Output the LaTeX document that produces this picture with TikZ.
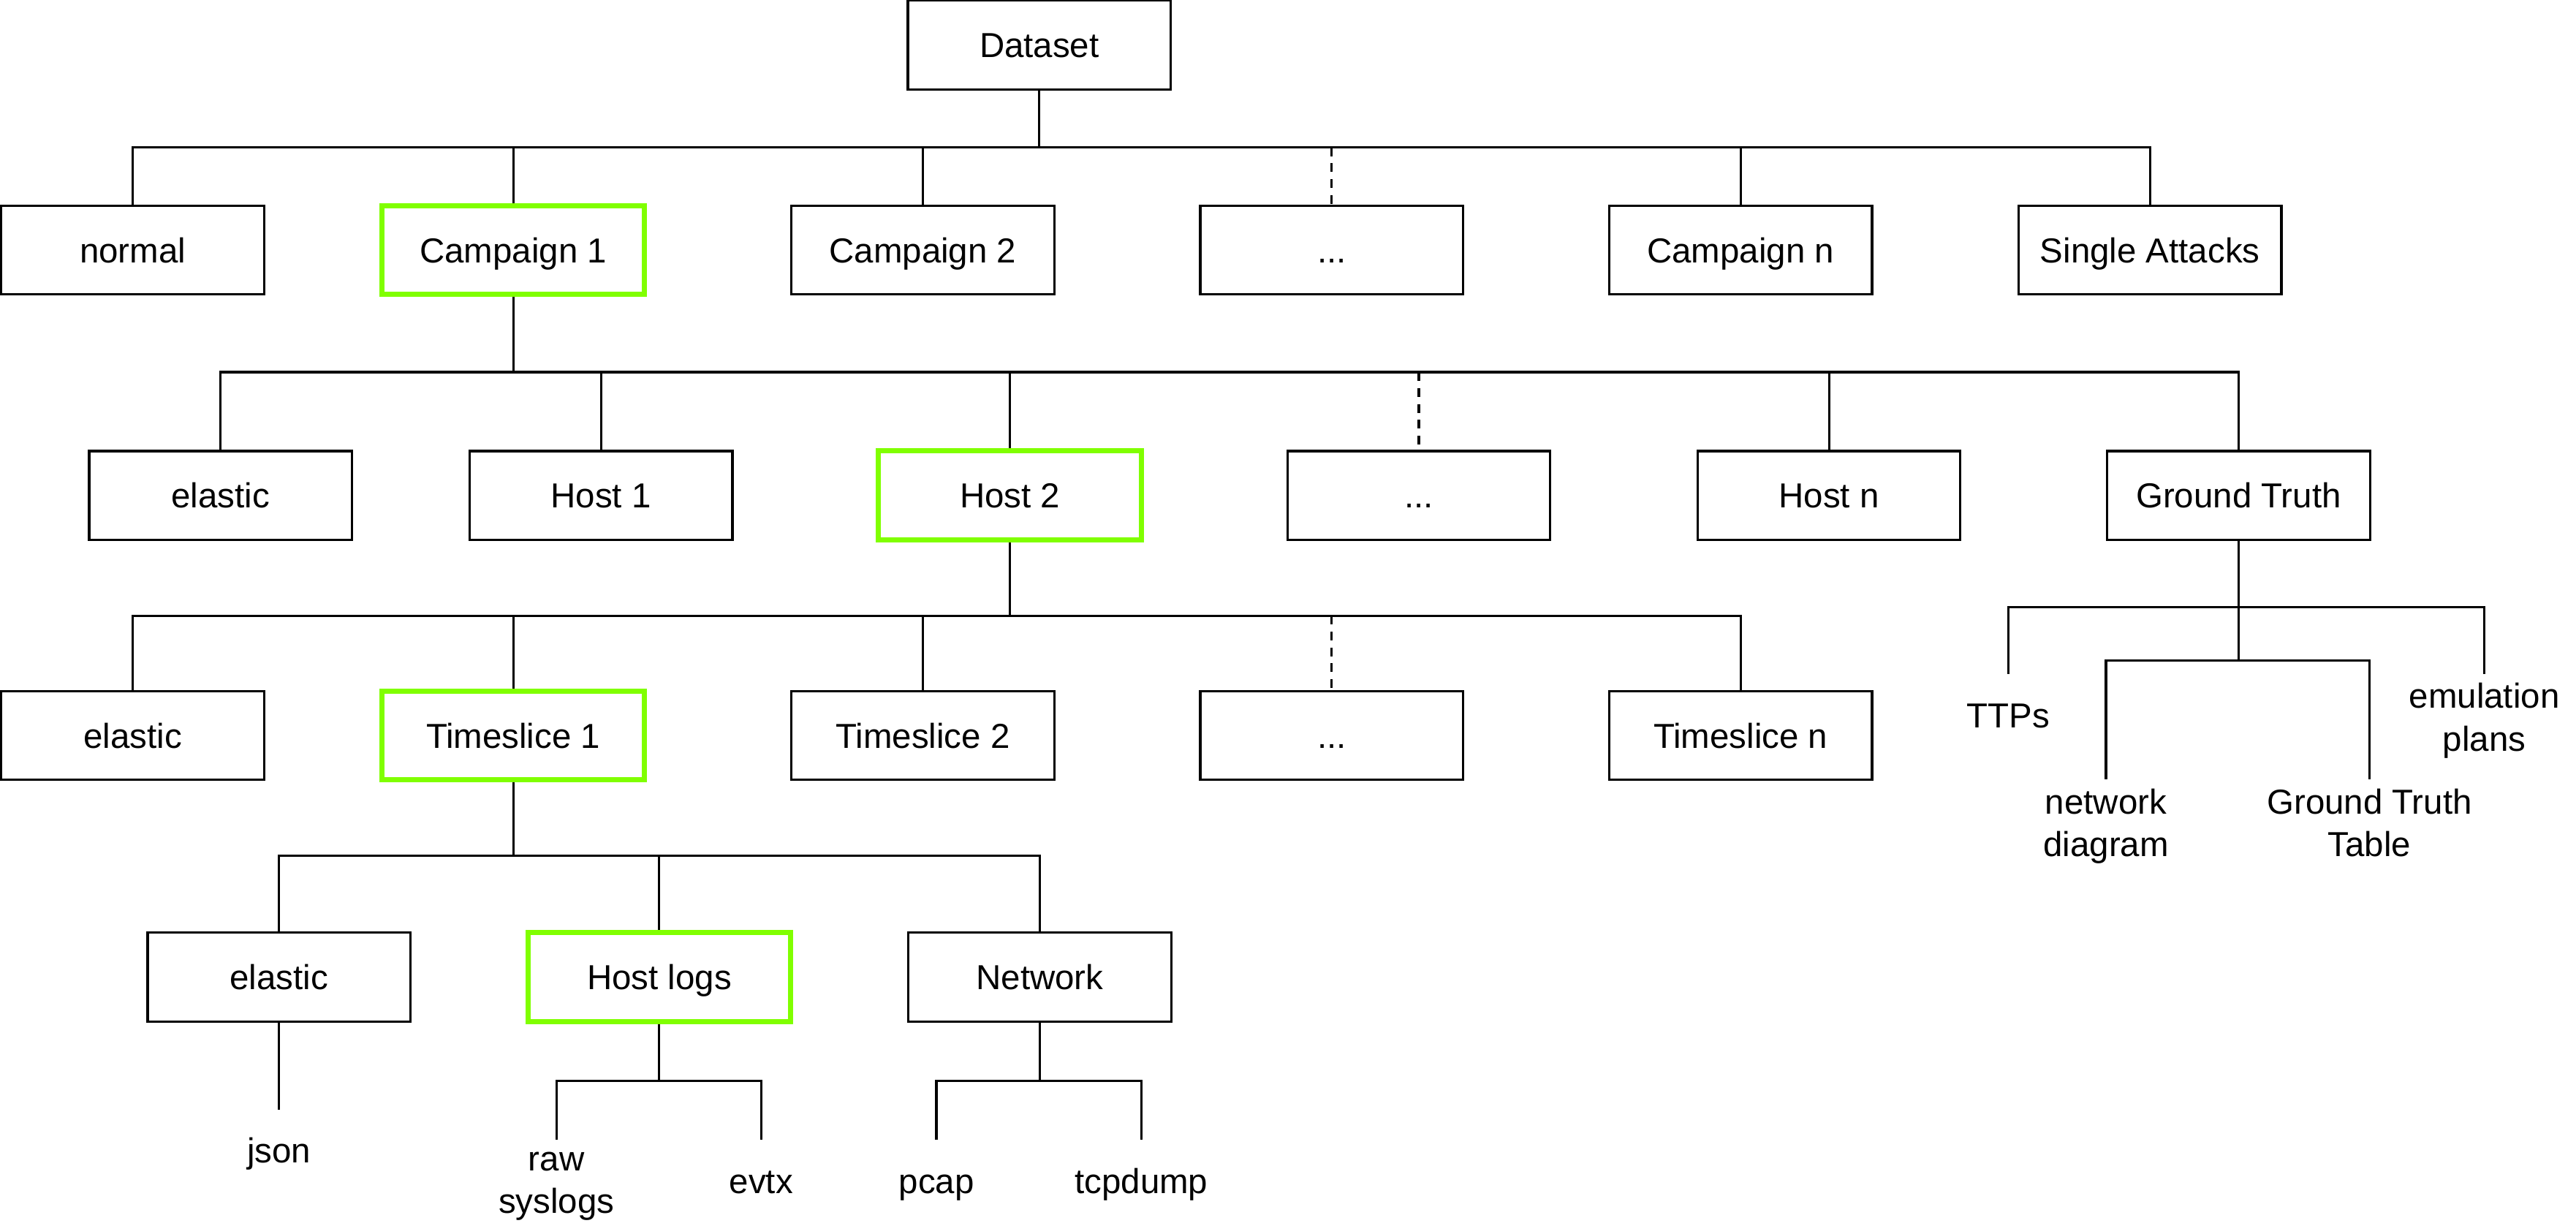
\documentclass[tikz,border=0pt]{standalone}
\usepackage{fontspec}
\setmainfont{Liberation Sans}
\usetikzlibrary{backgrounds}
\definecolor{hlgreen}{RGB}{128,255,0}
\newcommand\ls{\rule[-0.25em]{0pt}{1.216em}}
\newcommand\fs{\fontsize{13.5pt}{16.6pt}\selectfont}
\begin{document}
\begin{tikzpicture}[x=0.022474cm,y=-0.022474cm,
 box/.style={draw=black, line width=0.9pt, minimum width=3.596cm, minimum height=1.2136cm, inner sep=0pt, font=\fs, execute at begin node=\ls, fill=white},
 hl/.style={box, draw=hlgreen, line width=2pt},
 lbl/.style={inner sep=0pt, align=center, font=\fs, execute at begin node=\ls},
 edge/.style={line width=0.9pt, draw=black},
 dashedge/.style={edge, dash pattern=on 3.4pt off 2.8pt}]
\useasboundingbox (0,0) rectangle (1568,745.8);
% level 0
\node[box] (ds) at (632.6,27.4) {Dataset};
% level 1
\node[box] (normal) at (80.8,152.2) {normal};
\node[hl]  (c1) at (312.4,152.2) {Campaign 1};
\node[box] (c2) at (561.7,152.2) {Campaign 2};
\node[box] (cdots) at (810.6,152.2) {...};
\node[box] (cn) at (1059.5,152.2) {Campaign n};
\node[box] (single) at (1308.7,152.2) {Single Attacks};
% level 2
\node[box] (el2) at (134.3,301.5) {elastic};
\node[box] (h1) at (365.8,301.5) {Host 1};
\node[hl]  (h2) at (614.8,301.5) {Host 2};
\node[box] (hdots) at (863.6,301.5) {...};
\node[box] (hn) at (1113.3,301.5) {Host n};
\node[box] (gt) at (1362.6,301.5) {Ground Truth};
% level 3
\node[box] (el3) at (80.8,447.7) {elastic};
\node[hl]  (t1) at (312.4,447.7) {Timeslice 1};
\node[box] (t2) at (561.7,447.7) {Timeslice 2};
\node[box] (tdots) at (810.6,447.7) {...};
\node[box] (tn) at (1059.5,447.7) {Timeslice n};
% level 4
\node[box] (el4) at (169.9,594.7) {elastic};
\node[hl]  (hlogs) at (401.3,594.7) {Host logs};
\node[box] (net) at (632.9,594.7) {Network};
% leaf labels
\node[lbl] (json) at (169.9,700) {json};
\node[lbl] (raw) at (338.7,722.5) {raw\\\ls syslogs};
\node[lbl] (evtx) at (463.3,718.8) {evtx};
\node[lbl] (pcap) at (570,718.8) {pcap};
\node[lbl] (tcp) at (694.7,718.8) {tcpdump};
\node[lbl] (ttps) at (1222.5,435.5) {TTPs};
\node[lbl] (emu) at (1512.2,439) {emulation\\\ls plans};
\node[lbl] (nd) at (1281.9,503.3) {network\\\ls diagram};
\node[lbl] (gtt) at (1442.3,503.3) {Ground Truth\\\ls Table};
% coordinates
\coordinate (b0) at (632.6,89.7);
\coordinate (b1) at (312.4,226.5);
\coordinate (b2) at (614.8,374.7);
\coordinate (b3) at (312.4,520.9);
\coordinate (hb) at (401.3,657.9);
\coordinate (nb) at (632.9,657.9);
\coordinate (g1) at (1362.6,369.5);
\coordinate (g2) at (1362.6,401.9);
\coordinate (jsonE) at (169.9,675.5);
\coordinate (rawE) at (338.7,693.7);
\coordinate (evtxE) at (463.3,693.7);
\coordinate (pcapE) at (570,693.7);
\coordinate (tcpE) at (694.7,693.7);
\coordinate (ttpE) at (1222.5,410.2);
\coordinate (emE) at (1512.2,410.2);
\coordinate (ndE) at (1281.9,474.1);
\coordinate (gttE) at (1442.3,474.1);
\begin{scope}[on background layer]
% level 0 -> 1
\draw[edge] (ds.south) -- (b0);
\draw[edge] (normal.north) |- (b0) -| (single.north);
\draw[edge] (c1.north) -- (c1.north |- b0);
\draw[edge] (c2.north) -- (c2.north |- b0);
\draw[dashedge] (cdots.north |- b0) -- (cdots.north);
\draw[edge] (cn.north) -- (cn.north |- b0);
% level 1 -> 2
\draw[edge] (c1.south) -- (b1);
\draw[edge] (el2.north) |- (b1) -| (gt.north);
\draw[edge] (h1.north) -- (h1.north |- b1);
\draw[edge] (h2.north) -- (h2.north |- b1);
\draw[dashedge] (hdots.north |- b1) -- (hdots.north);
\draw[edge] (hn.north) -- (hn.north |- b1);
% level 2 -> 3
\draw[edge] (h2.south) -- (b2);
\draw[edge] (el3.north) |- (b2) -| (tn.north);
\draw[edge] (t1.north) -- (t1.north |- b2);
\draw[edge] (t2.north) -- (t2.north |- b2);
\draw[dashedge] (tdots.north |- b2) -- (tdots.north);
% level 3 -> 4
\draw[edge] (t1.south) -- (b3);
\draw[edge] (el4.north) |- (b3) -| (net.north);
\draw[edge] (hlogs.north) -- (hlogs.north |- b3);
% leaves
\draw[edge] (el4.south) -- (jsonE);
\draw[edge] (hlogs.south) -- (hb);
\draw[edge] (rawE) |- (hb) -| (evtxE);
\draw[edge] (net.south) -- (nb);
\draw[edge] (pcapE) |- (nb) -| (tcpE);
% ground truth
\draw[edge] (gt.south) -- (g2);
\draw[edge] (ttpE) |- (g1) -| (emE);
\draw[edge] (ndE) |- (g2) -| (gttE);
\end{scope}
\end{tikzpicture}
\end{document}
